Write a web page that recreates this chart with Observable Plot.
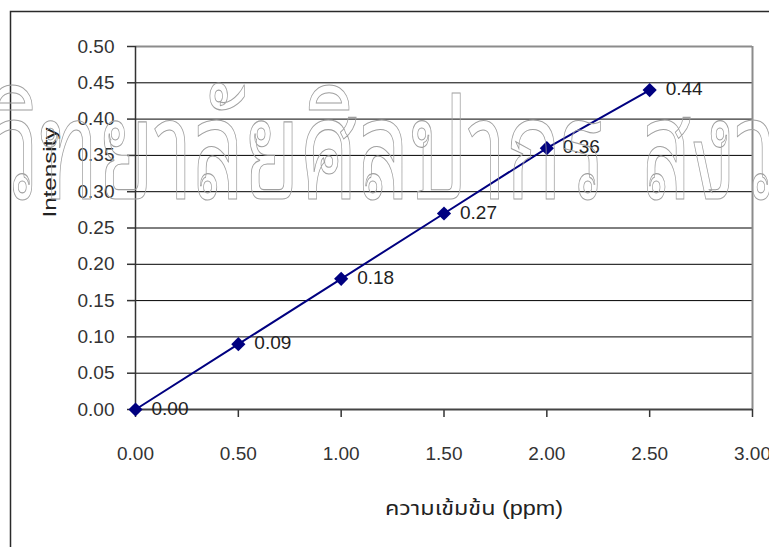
<!DOCTYPE html>
<html>
<head>
<meta charset="utf-8">
<script src="https://cdn.jsdelivr.net/npm/d3@7"></script>
<script src="https://cdn.jsdelivr.net/npm/@observablehq/plot@0.6"></script>
<style>
  html, body { margin: 0; padding: 0; background: #fff; }
  #chart svg { display: block; }
</style>
</head>
<body>
<div id="chart"></div>
<script>
// Calibration series: concentration (ppm) vs. measured intensity
const concentration = [0, 0.5, 1.0, 1.5, 2.0, 2.5];
const intensity = [0.00, 0.09, 0.18, 0.27, 0.36, 0.44];

// Axis ticks
const xTicks = [0, 0.5, 1.0, 1.5, 2.0, 2.5, 3.0];
const yTicks = [0, 0.05, 0.10, 0.15, 0.20, 0.25, 0.30, 0.35, 0.40, 0.45, 0.50];

// Text
const xTitle = "ความเข้มข้น (ppm)";
const yTitle = "Intensity";
const watermarkA = "วิทยาลัยศิลปากร";
const watermarkB = "สงวนลิขสิทธิ์";

const points = concentration.map((c, i) => ({c, v: intensity[i]}));
const fmt = d => d.toFixed(2);
const font = "'Liberation Sans', Arial, 'Noto Sans Thai', 'Noto Sans', sans-serif";
const thaiFont = "'Noto Sans Thai Looped', 'Noto Serif Thai', Norasi, Kinnari, Loma, Garuda, 'Noto Sans Thai', sans-serif";

const chart = Plot.plot({
  width: 769,
  height: 547,
  marginLeft: 135,
  marginRight: 17,
  marginTop: 46,
  marginBottom: 138,
  x: {domain: [0, 3]},
  y: {domain: [0, 0.5]},
  style: {fontFamily: font, fontSize: "19px", color: "#333", background: "#fff", overflow: "visible"},
  marks: [
    Plot.gridY(yTicks.slice(1, -1), {stroke: "#000", strokeOpacity: 1, strokeWidth: 1}),
    Plot.ruleY([0.5], {stroke: "#8c8c8c", strokeWidth: 2}),
    Plot.ruleX([3], {stroke: "#8c8c8c", strokeWidth: 2}),
    Plot.axisY(yTicks, {tickFormat: fmt, tickSize: 8, tickPadding: 13, stroke: "#333", strokeWidth: 1.5, fill: "#333", label: null}),
    Plot.axisX(xTicks, {tickFormat: fmt, tickSize: 8, tickPadding: 29, stroke: "#333", strokeWidth: 1.5, fill: "#333", label: null}),
    Plot.ruleY([0], {stroke: "#444", strokeWidth: 2}),
    Plot.ruleX([0], {stroke: "#333", strokeWidth: 1.5}),
    Plot.line(points, {x: "c", y: "v", stroke: "#000080", strokeWidth: 2}),
    Plot.dot(points, {x: "c", y: "v", symbol: "diamond2", r: 6.4, fill: "#000080", stroke: "none"}),
    Plot.text(points, {x: "c", y: "v", text: d => fmt(d.v), textAnchor: "start", dx: 16, dy: -1, fill: "#222", fontSize: 19})
  ]
});

document.getElementById("chart").appendChild(chart);

const svg = d3.select(chart);

// Squeeze or stretch a text element horizontally so it spans `width` pixels from x0
function fitWidth(sel, x0, width) {
  const y = sel.attr("y");
  const w = sel.node().getComputedTextLength();
  sel.attr("text-anchor", "start").attr("x", 0).attr("y", 0)
    .attr("transform", `translate(${x0},${y}) scale(${width / w},1)`);
}

// Chart-area border (top and left edges)
svg.append("path")
  .attr("d", "M10.5,547 L10.5,11.5 L769,11.5")
  .attr("fill", "none")
  .attr("stroke", "#2a2a2a")
  .attr("stroke-width", 1.5);

// Axis titles
svg.append("text")
  .attr("transform", "translate(56,172.5) rotate(-90)")
  .attr("text-anchor", "middle")
  .attr("font-family", font)
  .attr("font-size", 18)
  .attr("textLength", 90)
  .attr("lengthAdjust", "spacingAndGlyphs")
  .attr("fill", "#222")
  .text(yTitle);

const xt = svg.append("text")
  .attr("y", 515)
  .attr("text-anchor", "start")
  .attr("font-family", font)
  .attr("font-size", 20)
  .attr("fill", "#222")
  .text(xTitle);
fitWidth(xt, 385, 178);

// Outlined watermark across the chart
const wm = svg.append("g")
  .attr("fill", "none")
  .attr("stroke", "#a0a0a0")
  .attr("stroke-width", 1.1)
  .attr("text-anchor", "start")
  .attr("font-family", thaiFont)
  .attr("font-size", 140);
fitWidth(wm.append("text").attr("y", 199).text(watermarkA), -4, 609);
fitWidth(wm.append("text").attr("y", 199).text(watermarkB), 642, 440);
</script>
</body>
</html>
